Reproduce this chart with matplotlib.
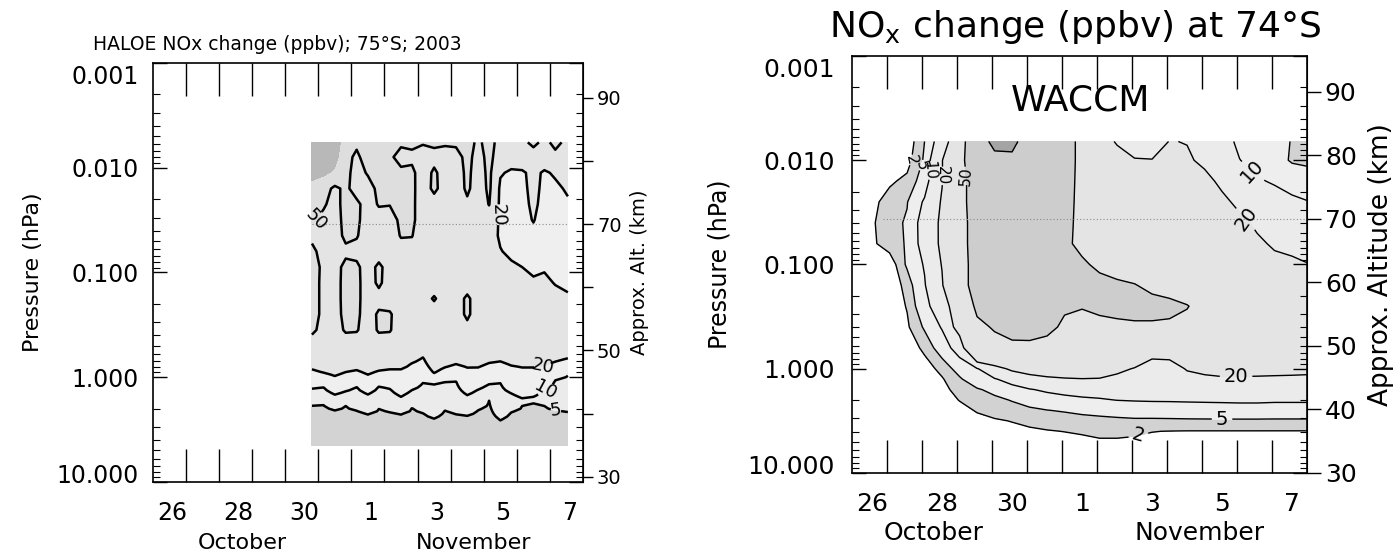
"""
NOx change after the Oct/Nov 2003 solar proton events, southern polar cap.
  左: HALOE 观测 (75S), 右: WACCM 模拟 (74S)
  x = day number (26 = 26 Oct, 32 = 1 Nov, 38 = 7 Nov), y = log10 pressure (hPa)
Output: out.png
"""
import numpy as np
import matplotlib
matplotlib.use("Agg")
import matplotlib.pyplot as plt
from matplotlib.transforms import ScaledTranslation

plt.rcParams["font.family"] = ["DejaVu Sans"]

# ---------------- axis conventions ----------------
DAY_LO, DAY_HI = 25.42, 38.42
day_ticks = [26, 28, 30, 32, 34, 36, 38]
day_labels = ["26", "28", "30", "1", "3", "5", "7"]
p_ticks = [-3, -2, -1, 0, 1]
p_labels = ["0.001", "0.010", "0.100", "1.000", "10.000"]

# ---------------- HALOE ----------------
haloe_days = [30.23, 30.58, 30.92, 31.25, 31.58, 31.92, 32.25, 32.58, 32.92, 33.25,
              33.58, 33.92, 34.25, 34.58, 34.92, 35.25, 35.58, 35.92, 36.25, 36.58,
              36.92, 37.25, 37.58, 37.96]
haloe_logp = [-2.24, -2.10, -1.95, -1.80, -1.65, -1.50, -1.35, -1.20, -1.05, -0.90,
              -0.75, -0.60, -0.45, -0.30]
# NOx change (ppbv), upper part, one row per level in haloe_logp
haloe_upper = [
    [110, 108, 100, 60, 55, 65, 60, 60, 55, 55, 52, 55, 52, 55, 60, 45, 60, 40, 40, 45, 55, 45, 55, 45],
    [105, 100, 90, 58, 45, 62, 58, 55, 40, 45, 40, 42, 44, 40, 58, 40, 58, 35, 30, 30, 40, 30, 45, 35],
    [90, 85, 75, 56, 42, 52, 56, 54, 56, 55, 38, 54, 40, 36, 56, 38, 56, 22, 17, 18, 24, 18, 22, 25],
    [70, 60, 45, 55, 40, 42, 55, 54, 56, 56, 36, 56, 38, 35, 55, 36, 55, 16, 12, 15, 26, 15, 17, 22],
    [62, 52, 44, 56, 55, 40, 52, 51, 56, 56, 35, 38, 36, 35, 45, 35, 51, 15, 12, 14, 24, 14, 15, 18],
    [52, 46, 42, 56, 55, 38, 40, 40, 55, 56, 35, 35, 35, 34, 35, 34, 38, 16, 13, 14, 21, 12, 14, 16],
    [45, 40, 40, 55, 52, 37, 36, 35, 52, 51, 35, 34, 34, 34, 34, 33, 30, 17, 14, 15, 15, 13, 14, 15],
    [55, 42, 40, 45, 42, 38, 36, 35, 38, 40, 35, 34, 34, 34, 33, 32, 28, 21, 16, 15, 16, 14, 15, 15],
    [60, 45, 42, 56, 55, 38, 56, 38, 36, 35, 35, 34, 34, 34, 33, 32, 30, 27, 23, 20, 17, 18, 16, 15],
    [60, 44, 42, 57, 56, 38, 55, 37, 36, 35, 35, 34, 34, 34, 33, 33, 32, 30, 28, 26, 22, 24, 19, 17],
    [60, 44, 42, 57, 56, 38, 40, 37, 36, 36, 38, 53, 36, 35, 56, 34, 33, 32, 31, 30, 28, 28, 26, 22],
    [60, 44, 42, 56, 55, 38, 54, 53, 36, 35, 35, 35, 35, 35, 56, 34, 33, 32, 31, 30, 30, 29, 28, 27],
    [55, 42, 40, 53, 52, 38, 53, 52, 36, 35, 35, 35, 35, 35, 40, 34, 33, 32, 31, 30, 30, 29, 28, 27],
    [38, 37, 36, 36, 36, 36, 36, 36, 35, 35, 35, 35, 35, 35, 34, 33, 32, 31, 30, 30, 30, 29, 28, 27],
]
# lower stratosphere: log10 p where each day-column crosses 20, 10 and 5 ppbv
haloe_z20 = [-0.075, -0.043, -0.011, -0.049, -0.068, -0.024, -0.062, -0.075, -0.075, -0.138,
             -0.195, -0.036, -0.094, -0.125, -0.094, -0.094, -0.138, -0.151, -0.113, -0.094,
             -0.094, -0.106, -0.148, -0.180]
haloe_z10 = [0.107, 0.097, 0.164, 0.132, 0.091, 0.161, 0.084, 0.107, 0.186, 0.123,
             0.053, 0.059, 0.043, 0.034, 0.170, 0.116, 0.065, 0.053, 0.154, 0.202,
             0.193, 0.123, 0.027, -0.021]
haloe_z5 = [0.266, 0.256, 0.307, 0.275, 0.313, 0.352, 0.301, 0.329, 0.352, 0.288,
            0.339, 0.393, 0.313, 0.352, 0.361, 0.307, 0.224, 0.409, 0.329, 0.272,
            0.250, 0.275, 0.313, 0.329]
haloe_bottom_logp = 0.66
haloe_bottom_nox = 3

# ---------------- WACCM ----------------
waccm_days = [25.42, 26.0, 26.5, 27.0, 27.5, 28.0, 28.5, 29.0, 29.5, 30.0, 30.5, 31.0, 31.5,
              32.0, 32.5, 33.0, 33.5, 34.0, 34.5, 35.0, 35.5, 36.0, 36.5, 37.0, 37.5, 38.0, 38.42]
waccm_logp = [-2.18, -2.0, -1.8, -1.6, -1.4, -1.2, -1.0, -0.8, -0.6, -0.4, -0.2, 0.0, 0.1,
              0.2, 0.3, 0.4, 0.5, 0.6, 0.7, 0.85, 1.0]
waccm_nox = [
    [0, 0, 0, 0, 5, 14, 30, 90, 105, 105, 90, 75, 58, 45, 30, 18, 12, 12, 20.5, 19.5, 17, 12, 9, 8, 6.5, 4.8, 4],
    [0, 0, 0.3, 0.8, 5.5, 19.5, 40, 75, 95, 96, 85, 72, 58, 45, 40, 28, 21, 20.5, 26, 22, 17, 14, 10.1, 8.5, 6.8, 4.5, 4],
    [0, 0.5, 1.5, 2.75, 7, 19.5, 40, 65, 75, 78, 72, 66, 57, 45, 40, 40, 40, 40, 38, 33, 24, 17, 13, 10.5, 9.5, 8, 7.5],
    [0, 1.2, 3.2, 4.8, 10.8, 21, 40, 65, 70, 70, 68, 64, 56, 45, 40, 38, 38, 38, 37, 35, 30, 23, 17, 13, 12, 11, 10.2],
    [0, 1.6, 3.8, 5.4, 13, 22, 40, 62, 66, 66, 64, 62, 55, 45, 40, 38, 37, 36, 35, 34, 32, 28, 23, 18, 15, 13, 12],
    [0, 1.4, 3.6, 5.3, 12.8, 22, 40, 62, 65, 65, 63, 60, 54, 45, 40, 37, 36, 35, 34, 33, 31, 28, 25, 22, 18.5, 17, 15],
    [0, 0, 0, 5.6, 10.5, 20.5, 40, 60, 63, 63, 62, 60, 57, 53, 46, 40, 38, 36, 34, 32, 30, 28, 26, 24, 23, 22, 20.5],
    [0, 0, 0, 3, 9.5, 19, 40, 60, 62, 62, 62, 61, 60, 58, 56, 54, 51, 45, 40, 37, 34, 31, 29, 27, 26, 25, 24],
    [0, 0, 0, 2.2, 8, 14.5, 28, 55, 60, 60, 60, 58, 53, 51, 54, 56, 57, 57, 56, 51, 42, 36, 32, 30, 28, 27, 26],
    [0, 0, 0, 1.5, 5.5, 10.5, 25, 45, 52, 60, 61, 56, 46, 44, 45, 46, 47, 47, 46, 44, 40, 36, 33, 31, 30, 29, 28],
    [0, 0, 0, 0, 2.8, 7, 13, 42, 43, 44, 44, 42, 38, 35, 33, 31, 30, 28, 28, 29, 28, 28, 27, 27, 27, 27, 26],
    [0, 0, 0, 0, 0.5, 3.0, 6.5, 9.5, 16, 22, 25, 25, 24, 24, 23, 22, 19.5, 13, 14, 21, 22, 23, 23, 22.5, 22, 22.5, 22],
    [0, 0, 0, 0, 0, 1.7, 4.5, 7.5, 9.5, 12.5, 16, 18.5, 19.5, 19.8, 19.7, 18, 15, 12, 12, 16, 18.5, 19, 19, 19, 19, 18.5, 18.5],
    [0, 0, 0, 0, 0, 1.2, 3, 4.6, 6, 7.8, 9.6, 11, 12, 12.5, 12.5, 12, 11.5, 11, 11, 11, 11.5, 12, 12, 12, 12, 12, 12],
    [0, 0, 0, 0, 0, 0.8, 2.1, 3.2, 4.2, 5.2, 6.3, 7.3, 8.2, 9, 9.5, 10.1, 10.3, 10.4, 10.4, 10.4, 10.4, 10.4, 10.4, 10.4, 10.3, 10.3, 10.3],
    [0, 0, 0, 0, 0, 0.4, 1.2, 2.2, 3.0, 3.7, 4.4, 4.9, 5.3, 5.8, 6.2, 6.6, 7.2, 7.5, 7.8, 8.3, 8.6, 8.8, 9, 9, 9, 9, 9],
    [0, 0, 0, 0, 0, 0, 0.7, 1.3, 1.7, 2.1, 2.6, 3.0, 3.4, 3.8, 4.0, 4.2, 4.3, 4.2, 4.2, 4.2, 4.2, 4.2, 4.2, 4.2, 4.1, 4.1, 4.1],
    [0, 0, 0, 0, 0, 0, 0.2, 0.6, 1.0, 1.3, 1.6, 1.85, 2.05, 2.2, 2.4, 2.4, 2.3, 2.05, 1.95, 1.9, 1.9, 1.9, 1.9, 1.9, 1.9, 1.9, 1.9],
    [0, 0, 0, 0, 0, 0, 0, 0.2, 0.4, 0.6, 0.8, 1.0, 1.2, 1.6, 1.8, 1.8, 1.7, 1.5, 1.4, 1.4, 1.4, 1.4, 1.4, 1.4, 1.4, 1.4, 1.4],
    [0, 0, 0, 0, 0, 0, 0, 0.1, 0.2, 0.3, 0.4, 0.5, 0.6, 0.8, 0.9, 0.9, 0.9, 0.8, 0.8, 0.8, 0.8, 0.8, 0.8, 0.8, 0.8, 0.8, 0.8],
    [0, 0, 0, 0, 0, 0, 0, 0.1, 0.1, 0.2, 0.2, 0.3, 0.3, 0.4, 0.4, 0.5, 0.5, 0.5, 0.5, 0.5, 0.5, 0.5, 0.5, 0.5, 0.5, 0.5, 0.5],
]


def haloe_field():
    """上层网格 + 下层按每列等值线高度插值"""
    up = np.array(haloe_upper, float)
    lower_lp = np.arange(-0.25, haloe_bottom_logp + 1e-6, 0.025)
    low = np.empty((len(lower_lp), len(haloe_days)))
    for k in range(len(haloe_days)):
        kx = [haloe_logp[-1], haloe_z20[k], haloe_z10[k], haloe_z5[k], haloe_bottom_logp]
        kv = [up[-1, k], 20, 10, 5, haloe_bottom_nox]
        low[:, k] = np.interp(lower_lp, kx, kv)
    lp = np.concatenate([haloe_logp, lower_lp])
    X, Y = np.meshgrid(haloe_days, lp)
    return X, Y, np.vstack([up, low])


def frame_axes(ax, fs, xpad, ypad):
    ax.set_xlim(DAY_LO, DAY_HI)
    ax.set_ylim(1, -3)
    ax.set_xticks(day_ticks)
    ax.set_xticklabels(day_labels)
    ax.set_xticks([26.42 + i for i in range(12)], minor=True)
    ax.tick_params(axis="x", which="major", length=0, labelsize=fs, pad=xpad)
    ax.tick_params(axis="x", which="minor", direction="in", length=24, width=1,
                   top=True, bottom=True)
    ax.set_yticks(p_ticks)
    ax.set_yticklabels(p_labels)
    ax.set_yticks([np.log10(m) + e for e in range(-3, 1) for m in range(2, 10)], minor=True)
    ax.tick_params(axis="y", which="major", direction="in", length=10, width=1,
                   left=True, right=True, labelsize=fs, pad=ypad)
    ax.tick_params(axis="y", which="minor", direction="in", length=5, width=0.8,
                   left=True, right=True)
    for s in ax.spines.values():
        s.set_linewidth(1.2)
    # IDL 风格: 两端的压力标签向内挪一点
    labs = ax.get_yticklabels()
    labs[0].set_transform(labs[0].get_transform()
                          + ScaledTranslation(0, -0.12, fig.dpi_scale_trans))
    labs[-1].set_transform(labs[-1].get_transform()
                           + ScaledTranslation(0, 0.08, fig.dpi_scale_trans))


def month_labels(ax, xs, y, fs):
    for x, t in zip(xs, ["October", "November"]):
        ax.text(x, y, t, transform=ax.get_xaxis_transform(), ha="center", va="center",
                fontsize=fs)


fig = plt.figure(figsize=(14, 5.56), dpi=100)

# ---------------- left: HALOE ----------------
axL = fig.add_axes([0.1091, 0.1331, 0.3074, 0.7541])
X, Y, Z = haloe_field()
axL.contourf(X, Y, Z, levels=[-10, 5, 10, 20, 50, 80, 1000],
             colors=["#d3d3d3", "#ebebeb", "#efefef", "#e4e4e4", "#dedede", "#b8b8b8"])
cs = axL.contour(X, Y, Z, levels=[5, 10, 20, 50], colors="k", linewidths=1.8)
axL.clabel(cs, fmt="%d", fontsize=13, inline=True, inline_spacing=3,
           manual=[(30.65, -1.4), (35.85, -1.55), (37.2, -0.1), (37.3, 0.13), (37.6, 0.31)])
zL = (lambda lp: 30 + 16.6 * (0.95 - lp), lambda z: 0.95 - (z - 30) / 16.6)
axL.hlines(zL[1](70), haloe_days[0], haloe_days[-1], colors="0.55", lw=0.8,
           linestyles=(0, (1, 2)))
frame_axes(axL, 17, 14, 10)
secL = axL.secondary_yaxis("right", functions=zL)
secL.set_yticks([30, 50, 70, 90])
secL.set_yticks([40, 60, 80], minor=True)
secL.tick_params(which="major", direction="out", length=7, width=1, labelsize=14, pad=3)
secL.tick_params(which="minor", direction="out", length=7, width=1)
secL.set_ylabel("Approx. Alt. (km)", fontsize=14, labelpad=6)
axL.set_ylabel("Pressure (hPa)", fontsize=16, labelpad=10)
month_labels(axL, [28.14, 35.11], -0.145, 16)
fig.text(277 / 1400, 1 - 45 / 556, "HALOE NOx change (ppbv); 75°S; 2003",
         ha="center", va="center", fontsize=13.5)

# ---------------- right: WACCM ----------------
axR = fig.add_axes([0.6084, 0.1493, 0.3250, 0.7500])
XW, YW = np.meshgrid(waccm_days, waccm_logp)
ZW = np.array(waccm_nox, float)
axR.contourf(XW, YW, ZW, levels=[-10, 2, 5, 10, 20, 50, 100, 1000],
             colors=["white", "#d2d2d2", "#eeeeee", "#ebebeb", "#e4e4e4", "#cdcdcd", "#a4a4a4"])
csW = axR.contour(XW, YW, ZW, levels=[2, 5, 10, 20, 50, 100], colors="k", linewidths=1.0)
axR.clabel(csW, fmt="%d", fontsize=14, inline=True, inline_spacing=4,
           manual=[(33.6, 0.63), (36.0, 0.45), (36.4, 0.1), (36.6, -1.42), (36.9, -1.9)])
axR.clabel(csW, fmt="%d", fontsize=11, inline=True, inline_spacing=2,
           manual=[(27.2, -2.0), (27.45, -1.95), (27.75, -1.9), (28.0, -1.85), (28.68, -1.85)])
zR = (lambda lp: 30 + 16.4 * (1.0 - lp), lambda z: 1.0 - (z - 30) / 16.4)
axR.hlines(zR[1](70), 26.3, DAY_HI, colors="0.55", lw=0.8, linestyles=(0, (1, 2)))
frame_axes(axR, 18, 14, 12)
secR = axR.secondary_yaxis("right", functions=zR)
secR.set_yticks([30, 40, 50, 60, 70, 80, 90])
secR.tick_params(which="major", direction="out", length=10, width=1, labelsize=18, pad=3)
secR.set_ylabel("Approx. Altitude (km)", fontsize=19, labelpad=8)
axR.set_ylabel("Pressure (hPa)", fontsize=17, labelpad=12)
axR.text(31.97, -2.57, "WACCM", ha="center", va="center", fontsize=26)
month_labels(axR, [27.77, 35.37], -0.145, 18)
fig.text(1075 / 1400, 1 - 27 / 556, r"NO$_\mathregular{x}$ change (ppbv) at 74°S",
         ha="center", va="center", fontsize=26)

fig.savefig("out.png", dpi=100)
